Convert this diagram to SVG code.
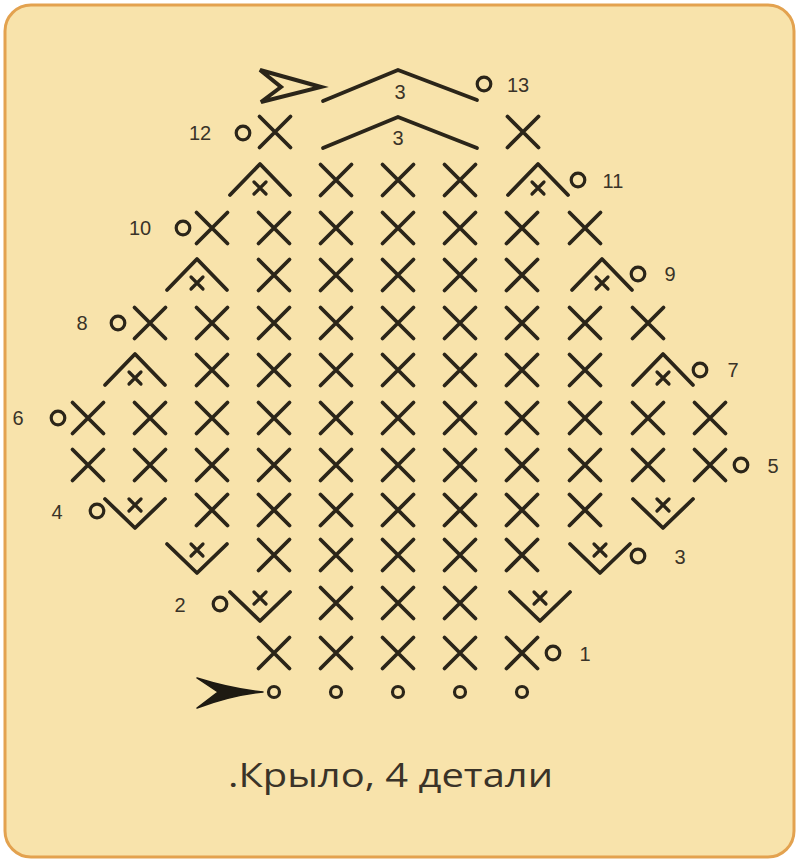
<svg xmlns="http://www.w3.org/2000/svg" xmlns:xlink="http://www.w3.org/1999/xlink" width="800" height="864" viewBox="0 0 800 864">
<style>
.s{fill:none;stroke:#2b2519;stroke-width:3.8;stroke-linecap:round;stroke-linejoin:round}
.sm{fill:none;stroke:#2b2519;stroke-width:3.2;stroke-linecap:round}
.ring{fill:none;stroke:#2b2519;stroke-width:3.2}
.lbl{font-family:"Liberation Sans",Arial,sans-serif;font-size:20px;fill:#3a3328;text-anchor:middle;dominant-baseline:central}
.cap{font-family:"Open Sans","Liberation Sans",Arial,sans-serif;font-size:32px;fill:#3a3328}
</style>
<defs>
<g id="x"><path class="s" d="M-15.5,-15.5L15.5,15.5M15.5,-15.5L-15.5,15.5"/></g>
<g id="dec"><path class="s" d="M-30,15L0,-16L30,15"/><path class="sm" d="M-6,2L6,14M6,2L-6,14"/></g>
<g id="inc"><path class="s" d="M-30,-11L0,18L30,-11"/><path class="sm" d="M-6,-11L6,1M6,-11L-6,1"/></g>
<circle id="ring" class="ring" r="6.8"/>
<circle id="ch" class="ring" r="5.5"/>
</defs>
<rect x="0" y="0" width="800" height="864" fill="#ffffff"/>
<rect x="5" y="5" width="789" height="852" rx="26" fill="#f8e3ab" stroke="#e3a24f" stroke-width="3"/>

<g id="row-0">
<path id="start-arrow" d="M197,678 Q232,689 263,692 Q232,695 197,708 L218,692 Z" fill="#1e1a12" stroke="#1e1a12" stroke-width="1.5" stroke-linejoin="round"/>
<use href="#ch" x="274" y="692"/><use href="#ch" x="336" y="692"/><use href="#ch" x="398" y="692"/><use href="#ch" x="460" y="692"/><use href="#ch" x="522" y="692"/>
</g>
<g id="row-1">
<use href="#x" x="274" y="653"/><use href="#x" x="336" y="653"/><use href="#x" x="398" y="653"/><use href="#x" x="460" y="653"/><use href="#x" x="522" y="653"/>
<use href="#ring" x="553" y="653"/><text class="lbl" x="585" y="654">1</text>
</g>
<g id="row-2">
<text class="lbl" x="180" y="605">2</text><use href="#ring" x="220" y="604"/>
<use href="#inc" x="260" y="603"/>
<use href="#x" x="336" y="603"/><use href="#x" x="398" y="603"/><use href="#x" x="460" y="603"/>
<use href="#inc" x="540" y="603"/>
</g>
<g id="row-3">
<use href="#inc" x="197" y="555"/>
<use href="#x" x="274" y="555"/><use href="#x" x="336" y="555"/><use href="#x" x="398" y="555"/><use href="#x" x="460" y="555"/><use href="#x" x="522" y="555"/>
<use href="#inc" x="600" y="555"/>
<use href="#ring" x="638" y="556"/><text class="lbl" x="680" y="557">3</text>
</g>
<g id="row-4">
<text class="lbl" x="57" y="512">4</text><use href="#ring" x="97" y="511"/>
<use href="#inc" x="135" y="510"/>
<use href="#x" x="212" y="510"/><use href="#x" x="274" y="510"/><use href="#x" x="336" y="510"/><use href="#x" x="398" y="510"/><use href="#x" x="460" y="510"/><use href="#x" x="522" y="510"/><use href="#x" x="585" y="510"/>
<use href="#inc" x="663" y="510"/>
</g>
<g id="row-5">
<use href="#x" x="88" y="465"/><use href="#x" x="150" y="465"/><use href="#x" x="212" y="465"/><use href="#x" x="274" y="465"/><use href="#x" x="336" y="465"/><use href="#x" x="398" y="465"/><use href="#x" x="460" y="465"/><use href="#x" x="522" y="465"/><use href="#x" x="585" y="465"/><use href="#x" x="648" y="465"/><use href="#x" x="710" y="465"/>
<use href="#ring" x="741" y="465"/><text class="lbl" x="773" y="466">5</text>
</g>
<g id="row-6">
<text class="lbl" x="18" y="418">6</text><use href="#ring" x="58" y="418"/>
<use href="#x" x="88" y="418"/><use href="#x" x="150" y="418"/><use href="#x" x="212" y="418"/><use href="#x" x="274" y="418"/><use href="#x" x="336" y="418"/><use href="#x" x="398" y="418"/><use href="#x" x="460" y="418"/><use href="#x" x="522" y="418"/><use href="#x" x="585" y="418"/><use href="#x" x="648" y="418"/><use href="#x" x="710" y="418"/>
</g>
<g id="row-7">
<use href="#dec" x="135" y="370"/>
<use href="#x" x="212" y="370"/><use href="#x" x="274" y="370"/><use href="#x" x="336" y="370"/><use href="#x" x="398" y="370"/><use href="#x" x="460" y="370"/><use href="#x" x="522" y="370"/><use href="#x" x="585" y="370"/>
<use href="#dec" x="663" y="370"/>
<use href="#ring" x="700" y="370"/><text class="lbl" x="733" y="370">7</text>
</g>
<g id="row-8">
<text class="lbl" x="82" y="323">8</text><use href="#ring" x="118" y="323"/>
<use href="#x" x="150" y="323"/><use href="#x" x="212" y="323"/><use href="#x" x="274" y="323"/><use href="#x" x="336" y="323"/><use href="#x" x="398" y="323"/><use href="#x" x="460" y="323"/><use href="#x" x="522" y="323"/><use href="#x" x="585" y="323"/><use href="#x" x="648" y="323"/>
</g>
<g id="row-9">
<use href="#dec" x="197" y="275"/>
<use href="#x" x="274" y="275"/><use href="#x" x="336" y="275"/><use href="#x" x="398" y="275"/><use href="#x" x="460" y="275"/><use href="#x" x="522" y="275"/>
<use href="#dec" x="602" y="275"/>
<use href="#ring" x="638" y="274"/><text class="lbl" x="670" y="274">9</text>
</g>
<g id="row-10">
<text class="lbl" x="140" y="228">10</text><use href="#ring" x="183" y="228"/>
<use href="#x" x="212" y="228"/><use href="#x" x="274" y="228"/><use href="#x" x="336" y="228"/><use href="#x" x="398" y="228"/><use href="#x" x="460" y="228"/><use href="#x" x="522" y="228"/><use href="#x" x="585" y="228"/>
</g>
<g id="row-11">
<use href="#dec" x="260" y="180"/>
<use href="#x" x="336" y="180"/><use href="#x" x="398" y="180"/><use href="#x" x="460" y="180"/>
<use href="#dec" x="538" y="180"/>
<use href="#ring" x="578" y="180"/><text class="lbl" x="613" y="181">11</text>
</g>
<g id="row-12">
<text class="lbl" x="200" y="133">12</text><use href="#ring" x="243" y="133"/>
<use href="#x" x="275" y="132"/>
<path class="s" d="M323,148L398,117L477,148"/>
<text class="lbl" x="398" y="138">3</text>
<use href="#x" x="523" y="132"/>
</g>
<g id="row-13">
<path id="end-arrow" d="M260,70L321,87L261,102L281,87Z" fill="none" stroke="#2b2519" stroke-width="4" stroke-linejoin="miter"/>
<path class="s" d="M323,101L398,70L477,100"/>
<text class="lbl" x="400" y="92">3</text>
<use href="#ring" x="484" y="84"/><text class="lbl" x="518" y="85">13</text>
</g>
<text class="cap" x="228" y="787" textLength="325" lengthAdjust="spacingAndGlyphs">.Крыло, 4 детали</text>
</svg>
